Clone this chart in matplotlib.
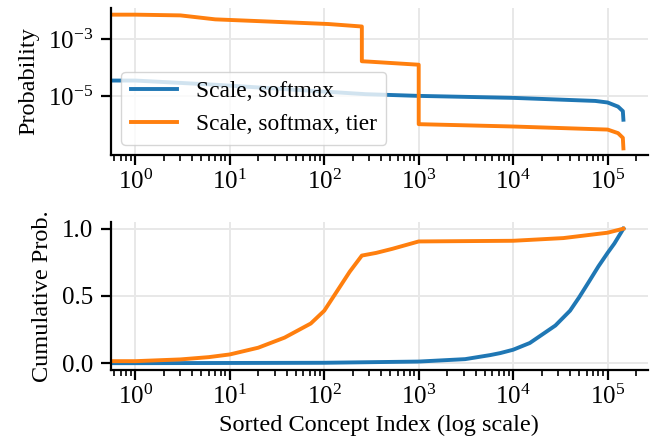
import matplotlib
matplotlib.use("Agg")
import matplotlib.pyplot as plt
from matplotlib.ticker import LogLocator, NullLocator

plt.rcParams['font.family'] = ['Liberation Serif', 'DejaVu Serif']
plt.rcParams['mathtext.fontset'] = 'stix'
plt.rcParams['font.size'] = 17.5

# ---- data ----
labels = ["Scale, softmax", "Scale, softmax, tier"]

# top panel: per-concept probability
softmax_x = [0, 1, 7, 275, 1000, 10000, 74000, 100000, 129000, 145000, 147000]
softmax_p = [3.5e-5, 3.5e-5, 2.5e-5, 1.17e-5, 1.02e-5, 8.7e-6, 6.8e-6, 6.0e-6, 4.3e-6,
             3.0e-6, 1.5e-6]

tier_x = [0, 1, 3, 7, 27, 110, 250, 250, 300, 1000, 1000, 10000, 100000, 129000, 145000,
          147000]
tier_p = [7.0e-3, 7.0e-3, 6.6e-3, 4.8e-3, 4.0e-3, 3.3e-3, 2.7e-3, 1.65e-4, 1.6e-4, 1.25e-4,
          1.05e-6, 8.7e-7, 6.8e-7, 5.1e-7, 3.5e-7, 1.5e-7]

# bottom panel: cumulative probability
softmax_cx = [0, 1, 100, 1000, 3100, 5700, 7300, 10000, 15000, 21000, 28000, 40000, 50000,
              64000, 80000, 100000, 118000, 147000]
softmax_c = [0.0, 0.0001, 0.003, 0.012, 0.03, 0.06, 0.075, 0.10, 0.15, 0.22, 0.28, 0.39,
             0.49, 0.61, 0.72, 0.82, 0.89, 1.0]

tier_cx = [0, 1, 3, 6, 10, 20, 38, 72, 100, 135, 186, 250, 355, 525, 1000, 10000, 34000,
           100000, 147000]
tier_c = [0.007, 0.015, 0.028, 0.045, 0.065, 0.115, 0.19, 0.295, 0.39, 0.53, 0.68, 0.80,
          0.82, 0.85, 0.905, 0.91, 0.93, 0.97, 1.0]

xticks = [1, 10, 100, 1000, 10000, 100000]
top_yticks = [1e-3, 1e-5]
bottom_yticks = [0.0, 0.5, 1.0]

colors = ["#1f77b4", "#ff7f0e"]

fig = plt.figure(figsize=(6.51, 4.43), dpi=100)
ax1 = fig.add_axes([0.1705, 0.650, 0.8245, 0.332])
ax2 = fig.add_axes([0.1705, 0.165, 0.8245, 0.334])

lw = 2.8
ax1.plot(softmax_x, softmax_p, color=colors[0], lw=lw, label=labels[0])
ax1.plot(tier_x, tier_p, color=colors[1], lw=lw, label=labels[1])
ax1.set_xscale('log')
ax1.set_yscale('log')
ax1.set_yticks(top_yticks)
ax1.yaxis.set_minor_locator(NullLocator())
ax1.set_ylabel("Probability", labelpad=6)
ax1.legend(loc='lower left', handlelength=2.0, borderaxespad=0.45, fontsize=16.8)

ax2.plot(softmax_cx, softmax_c, color=colors[0], lw=lw)
ax2.plot(tier_cx, tier_c, color=colors[1], lw=lw)
ax2.set_xscale('log')
ax2.set_yticks(bottom_yticks)
ax2.set_ylim(-0.05, 1.05)
ax2.set_ylabel("Cumulative Prob.", labelpad=6)
ax2.set_xlabel("Sorted Concept Index (log scale)")

for ax in (ax1, ax2):
    ax.set_xlim(10 ** -0.258, 10 ** 5.425)
    ax.set_xticks(xticks)
    ax.xaxis.set_minor_locator(LogLocator(base=10, subs=range(2, 10), numticks=20))
    ax.spines['top'].set_visible(False)
    ax.spines['right'].set_visible(False)
    ax.spines['left'].set_linewidth(1.6)
    ax.spines['bottom'].set_linewidth(1.6)
    ax.grid(True, which='major', color='#e8e8e8', lw=1.4)
    ax.set_axisbelow(True)
    ax.tick_params(which='major', length=7, width=1.6, labelsize=18)
    ax.tick_params(which='minor', length=4.5, width=1.2)
    ax.tick_params(axis='y', which='major', pad=6)

fig.savefig("out.png", dpi=100)
